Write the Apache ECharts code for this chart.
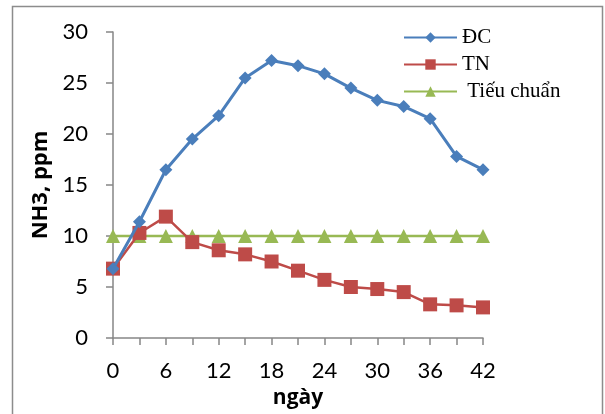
<!DOCTYPE html>
<html>
<head>
<meta charset="utf-8">
<script src="https://cdn.jsdelivr.net/npm/echarts@6/dist/echarts.min.js"></script>
<style>
  html, body { margin: 0; padding: 0; background: #fff; }
  #container { width: 605px; height: 414px; }
</style>
</head>
<body>
<div id="container"></div>
<script>
var days = [0, 3, 6, 9, 12, 15, 18, 21, 24, 27, 30, 33, 36, 39, 42];
var dc = [6.8, 11.4, 16.5, 19.5, 21.8, 25.5, 27.2, 26.7, 25.9, 24.5, 23.3, 22.7, 21.5, 17.8, 16.5];
var tn = [6.8, 10.3, 11.9, 9.4, 8.6, 8.2, 7.5, 6.6, 5.7, 5.0, 4.8, 4.5, 3.3, 3.2, 3.0];
var standard = [10, 10, 10, 10, 10, 10, 10, 10, 10, 10, 10, 10, 10, 10, 10];

function pairs(vals) {
  return days.map(function (d, i) { return [d, vals[i]]; });
}

var dom = document.getElementById('container');
var myChart = echarts.init(dom);
var tickFont = 'Lato, "Open Sans", sans-serif';
var axisColor = '#868686';

var option = {
  animation: false,
  backgroundColor: '#fff',
  graphic: [{
    type: 'rect',
    silent: true,
    shape: { x: 12.5, y: 6.5, width: 590, height: 430 },
    style: { fill: 'none', stroke: '#8c8c8c', lineWidth: 1.5 }
  }],
  grid: { left: 113, top: 32, right: 122, bottom: 75 },
  legend: {
    left: 398,
    top: 22,
    orient: 'vertical',
    itemWidth: 53,
    itemHeight: 13,
    itemGap: 6,
    textStyle: { fontFamily: '"Liberation Serif", serif', fontSize: 21, color: '#000' },
    data: ['ĐC', 'TN', ' Tiếu chuẩn']
  },
  xAxis: {
    type: 'value',
    min: 0, max: 42, interval: 3,
    name: 'ngày',
    nameLocation: 'middle',
    nameGap: 50,
    nameTextStyle: { fontFamily: '"Open Sans", sans-serif', fontWeight: 'bold', fontSize: 21, color: '#000' },
    axisLine: { lineStyle: { color: axisColor, width: 1.5 } },
    axisTick: { length: 7, lineStyle: { color: axisColor, width: 1.5 } },
    axisLabel: {
      fontFamily: tickFont, fontSize: 22, color: '#000', margin: 22,
      formatter: function (v) { return v % 6 === 0 ? String(v) : ''; }
    },
    splitLine: { show: false }
  },
  yAxis: {
    type: 'value',
    min: 0, max: 30, interval: 5,
    name: 'NH3, ppm',
    nameLocation: 'middle',
    nameGap: 60,
    nameTextStyle: { fontFamily: '"Open Sans", sans-serif', fontWeight: 'bold', fontSize: 22, color: '#000' },
    axisLine: { show: true, lineStyle: { color: axisColor, width: 1.5 } },
    axisTick: { show: true, length: 7, lineStyle: { color: axisColor, width: 1.5 } },
    axisLabel: { fontFamily: tickFont, fontSize: 22, color: '#000', margin: 25 },
    splitLine: { show: false }
  },
  series: [{
    name: 'ĐC',
    type: 'line',
    symbol: 'diamond',
    symbolSize: 13,
    itemStyle: { color: '#4A7EBB' },
    lineStyle: { width: 3, color: '#4A7EBB' },
    data: pairs(dc),
    z: 4
  }, {
    name: 'TN',
    type: 'line',
    symbol: 'rect',
    symbolSize: 14,
    itemStyle: { color: '#BE4B48' },
    lineStyle: { width: 2.5, color: '#BE4B48' },
    data: pairs(tn),
    z: 3
  }, {
    name: ' Tiếu chuẩn',
    type: 'line',
    symbol: 'triangle',
    symbolSize: 14,
    itemStyle: { color: '#98B954' },
    lineStyle: { width: 2.5, color: '#98B954' },
    data: pairs(standard),
    z: 2
  }]
};

myChart.setOption(option);
</script>
</body>
</html>
